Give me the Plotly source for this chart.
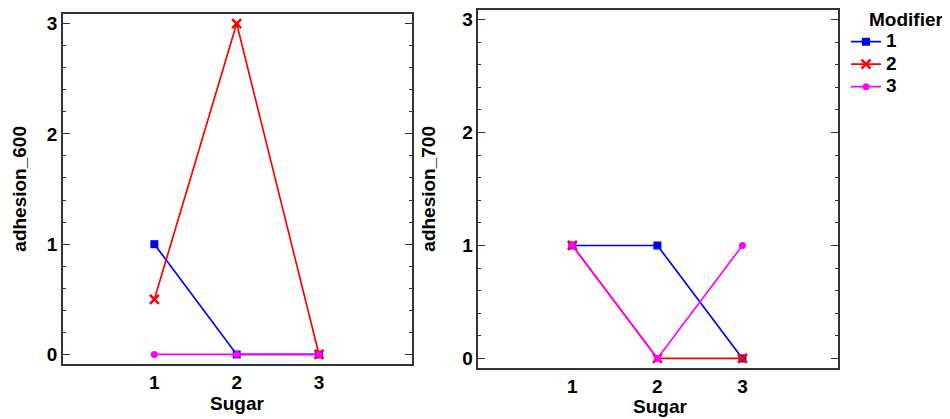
import plotly.graph_objects as go

sugar = [1, 2, 3]
modifiers = ["1", "2", "3"]
adhesion_600 = {"1": [1, 0, 0], "2": [0.5, 3, 0], "3": [0, 0, 0]}
adhesion_700 = {"1": [1, 1, 0], "2": [1, 0, 0], "3": [1, 0, 1]}
colors = {"1": "#0000FF", "2": "#FF0000", "3": "#FF00FF"}
symbols = {"1": "square", "2": "x-thin", "3": "circle"}
msizes = {"1": 8, "2": 9, "3": 7}
y_ticks = [0, 1, 2, 3]

FONT = "Liberation Sans, Arial, sans-serif"
OFF = 8  # page body margin
W, H = 950 - OFF, 419 - OFF


def px(v):
    return min(max((v - OFF) / W, 0), 1)


def py(v):
    return min(max(1 - (v - OFF) / H, 0), 1)


fig = go.Figure()

for panel, (data, xa, ya) in enumerate([(adhesion_600, "x", "y"), (adhesion_700, "x2", "y2")]):
    for m in modifiers:
        marker = dict(color=colors[m], symbol=symbols[m], size=msizes[m])
        if symbols[m] == "x-thin":
            marker["line"] = dict(color=colors[m], width=2.5)
        fig.add_trace(go.Scatter(
            x=sugar, y=data[m], mode="lines+markers",
            name='<span style="font-size:19px">' + m + "</span>",
            line=dict(color=colors[m], width=1.7), marker=marker,
            xaxis=xa, yaxis=ya, showlegend=(panel == 1), legendgroup=m,
            cliponaxis=False,
        ))

tfont = dict(family=FONT, size=19, color="black", weight="bold")
lfont = dict(family=FONT, size=15, color="black", weight="bold")
axis_common = dict(showgrid=False, zeroline=False, showline=True, linecolor="#333333",
                   linewidth=1.5, mirror=True)
yaxis_common = dict(axis_common, tickvals=y_ticks, ticks="inside", ticklen=7, tickwidth=1.3,
                    tickcolor="#333333", mirror="ticks",
                    minor=dict(dtick=0.2, ticks="inside", ticklen=3, tickwidth=1.3, tickcolor="#333333"),
                    tickfont=tfont)
xaxis_common = dict(axis_common, tickvals=sugar, ticks="", tickfont=tfont)

fig.update_layout(
    width=W, height=H, margin=dict(l=0, r=0, t=0, b=0),
    plot_bgcolor="white", paper_bgcolor="white",
    xaxis=dict(xaxis_common, domain=[px(63), px(412)], range=[-0.11, 4.13]),
    yaxis=dict(yaxis_common, domain=[py(365), py(12)], range=[-0.09, 3.087]),
    xaxis2=dict(xaxis_common, domain=[px(478.3), px(837.7)], range=[-0.106, 4.12], anchor="y2"),
    yaxis2=dict(yaxis_common, domain=[py(369), py(8)], range=[-0.088, 3.085], anchor="x2"),
    legend=dict(x=px(846), y=py(23.5), xanchor="left", yanchor="top",
                font=lfont, itemwidth=30, tracegroupgap=0, bgcolor="rgba(0,0,0,0)"),
    showlegend=True,
)

annots = [
    dict(text="adhesion_600", x=px(20), y=py(188), textangle=-90, xanchor="center"),
    dict(text="adhesion_700", x=px(429), y=py(188), textangle=-90, xanchor="center"),
    dict(text="Sugar", x=px(237), y=py(404), textangle=0, xanchor="center"),
    dict(text="Sugar", x=px(660), y=py(407), textangle=0, xanchor="center"),
    dict(text="Modifier", x=px(867), y=py(18), textangle=0, xanchor="left"),
]
for a in annots:
    fig.add_annotation(xref="paper", yref="paper", showarrow=False, font=tfont,
                       yanchor="middle", **a)

fig.write_html("out.html")
